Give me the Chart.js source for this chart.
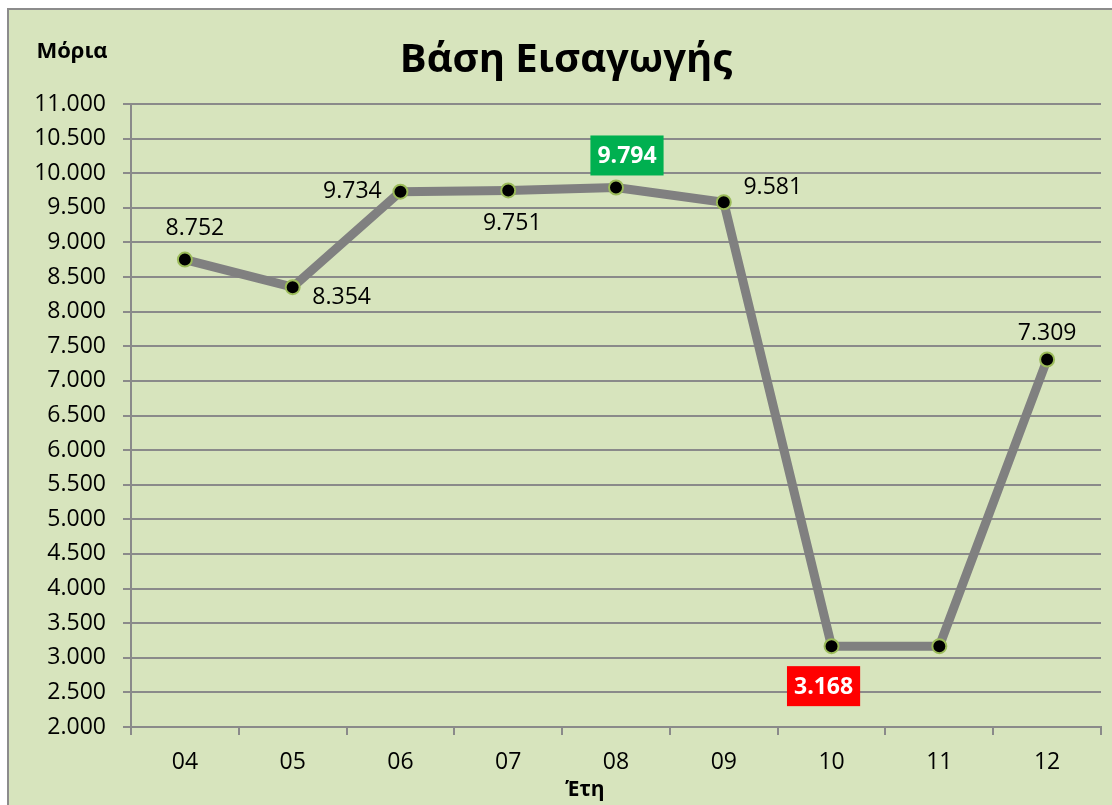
<!DOCTYPE html>
<html>
<head>
<meta charset="utf-8">
<script src="https://cdn.jsdelivr.net/npm/chart.js@4/dist/chart.umd.min.js"></script>
<style>
  body { margin: 0; background: #fff; }
  #frame {
    position: absolute; left: 7px; top: 8px;
    width: 1105px; height: 797px;
    border-left: 2px solid #8c8c8c; border-top: 2px solid #8c8c8c;
    background: #d7e4bd;
  }
  #wrap { position: absolute; left: 0; top: 0; width: 1103px; height: 795px; }
</style>
</head>
<body>
<div id="frame"><div id="wrap"><canvas id="chart"></canvas></div></div>
<script>
const years = ['04', '05', '06', '07', '08', '09', '10', '11', '12']
const scores = [8752, 8354, 9734, 9751, 9794, 9581, 3168, 3168, 7309]
const yTicks = { min: 2000, max: 11000, step: 500 }

// where each value label sits relative to its point (null = no label)
const labelOffsets = [[10, -31], [49, 10], [-48, 0], [4, 33], [11, -32], [49, -15], [-8, 40], null, [0, -26]]

const FONT = '"Open Sans", "Noto Sans", sans-serif'
const grey = '#8a8a8a'

function fmt(v) {
  return String(v).replace(/\B(?=(\d{3})+(?!\d))/g, '.')
}

const maxVal = Math.max(...scores)
const minVal = Math.min(...scores)

const labelsPlugin = {
  id: 'valueLabels',
  afterDatasetsDraw(chart) {
    const ctx = chart.ctx
    const meta = chart.getDatasetMeta(0)
    ctx.save()
    ctx.textAlign = 'center'
    ctx.textBaseline = 'middle'
    let minDone = false
    meta.data.forEach((pt, i) => {
      const off = labelOffsets[i]
      if (!off) return
      const v = scores[i]
      const x = pt.x + off[0]
      const y = pt.y + off[1]
      const text = fmt(v)
      let box = null
      if (v === maxVal) box = '#00b050'
      else if (v === minVal && !minDone) { box = '#ff0000'; minDone = true }
      if (box) {
        ctx.font = 'bold 23px ' + FONT
        const w = ctx.measureText(text).width + 14
        ctx.fillStyle = box
        ctx.fillRect(x - w / 2, y - 20, w, 40)
        ctx.fillStyle = '#fff'
        ctx.fillText(text, x, y + 1)
      } else {
        ctx.font = '23px ' + FONT
        ctx.fillStyle = '#000'
        ctx.fillText(text, x, y)
      }
    })
    // title and axis captions
    ctx.fillStyle = '#000'
    ctx.font = 'bold 40px ' + FONT
    ctx.fillText('Βάση Εισαγωγής', 557, 51)
    ctx.font = 'bold 22px ' + FONT
    ctx.fillText('Μόρια', 63, 42)
    ctx.font = 'bold 21px ' + FONT
    ctx.fillText('Έτη', 576, 780)
    ctx.restore()
  }
}

new Chart(document.getElementById('chart'), {
  type: 'line',
  data: {
    labels: years,
    datasets: [{
      data: scores,
      borderColor: '#808080',
      borderWidth: 9,
      tension: 0,
      pointRadius: 7,
      pointBackgroundColor: '#000',
      pointBorderColor: '#9bbb59',
      pointBorderWidth: 2
    }]
  },
  options: {
    responsive: true,
    maintainAspectRatio: false,
    animation: false,
    layout: { padding: { top: 94, right: 11 } },
    plugins: {
      legend: { display: false },
      tooltip: { enabled: false },
      title: { display: false }
    },
    scales: {
      x: {
        offset: true,
        grid: { offset: true, drawOnChartArea: false, color: grey, lineWidth: 2, tickLength: 8 },
        border: { color: grey, width: 2 },
        ticks: { color: '#000', font: { family: FONT, size: 23 }, padding: 14 },
        afterFit(s) { s.height = 78 }
      },
      y: {
        min: yTicks.min,
        max: yTicks.max,
        grid: { color: grey, lineWidth: 2, tickLength: 8 },
        border: { color: grey, width: 2 },
        ticks: {
          stepSize: yTicks.step,
          color: '#000',
          font: { family: FONT, size: 23 },
          padding: 17,
          callback: v => fmt(v)
        },
        afterFit(s) { s.width = 122 }
      }
    }
  },
  plugins: [labelsPlugin]
})
</script>
</body>
</html>
